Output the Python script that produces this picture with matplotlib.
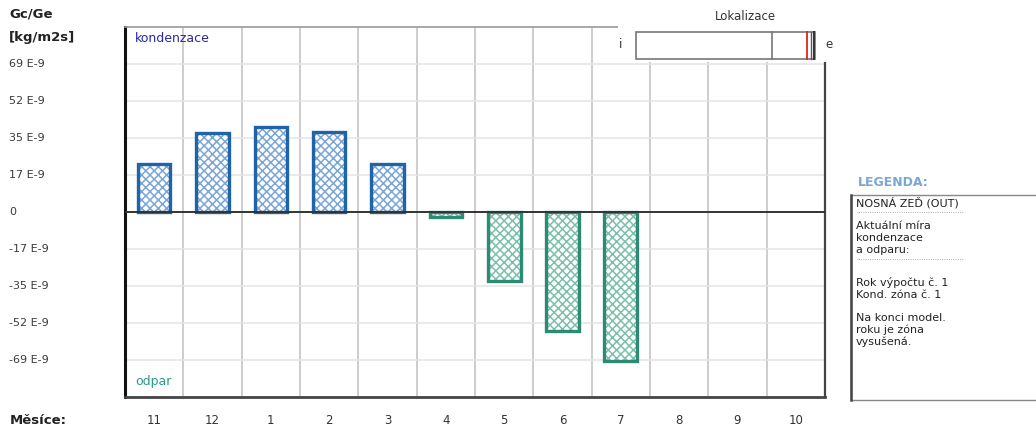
import matplotlib
matplotlib.use("Agg")
import matplotlib.pyplot as plt
import matplotlib.transforms as mtransforms
from matplotlib.patches import Rectangle

plt.rcParams['font.family'] = ['DejaVu Sans']

# Data -------------------------------------------------------------
months = ["11", "12", "1", "2", "3", "4", "5", "6", "7", "8", "9", "10"]
rates = [22.2, 36.6, 39.7, 37.2, 22.2, -2.3, -32.1, -55.3, -69.3, 0, 0, 0]  # E-9 kg/m2s
tick_values = [69, 51.75, 34.5, 17.25, 0, -17.25, -34.5, -51.75, -69]
tick_labels = ["69 E-9", "52 E-9", "35 E-9", "17 E-9", "0",
               "-17 E-9", "-35 E-9", "-52 E-9", "-69 E-9"]
legend_lines = ["NOSNÁ ZEĎ (OUT)", None, "Aktuální míra", "kondenzace", "a odparu:",
                None, "Rok výpočtu č. 1", "Kond. zóna č. 1",
                "Na konci model.", "roku je zóna", "vysušená."]

W, H = 1036, 428
fig = plt.figure(figsize=(W / 100, H / 100), dpi=100)
fig.patch.set_facecolor("white")


def fx(px):
    return px / W


def fy(py):
    return 1 - py / H


ax = fig.add_axes([fx(125), fy(397), fx(825) - fx(125), fy(27) - fy(397)])
ax.set_xlim(-0.5, len(months) - 0.5)
ax.set_ylim(-86.25, 86.25)
ax.set_xticks([])
ax.set_yticks([])

# grid
for k in range(len(months) - 1):
    ax.axvline(k + 0.5, color="#c0c0c0", lw=1.1, zorder=1)
for v in tick_values:
    if v != 0:
        ax.axhline(v, color="#e4e4e4", lw=1.1, zorder=1)
ax.axhline(0, color="#333333", lw=1.4, zorder=4)

# bars
blue_edge, blue_hatch = "#1f64a8", "#7aa5d4"
teal_edge, teal_hatch = "#2e8a72", "#7cbfab"
plt.rcParams['hatch.linewidth'] = 1.1
xs = list(range(len(months)))
for x, v in zip(xs, rates):
    if v == 0:
        continue
    edge, hc = (blue_edge, blue_hatch) if v > 0 else (teal_edge, teal_hatch)
    ax.bar(x, v, width=0.56, color="white", edgecolor=hc, hatch="xxxx",
           linewidth=0, zorder=2)
    ax.bar(x, v, width=0.56, fill=False, edgecolor=edge, linewidth=2.4, zorder=3)

# border
for side, col, lw in [("left", "#111111", 2.2), ("bottom", "#444444", 2.0),
                      ("top", "#9a9a9a", 1.2), ("right", "#444444", 1.6)]:
    ax.spines[side].set_color(col)
    ax.spines[side].set_linewidth(lw)

fig.text(fx(135), fy(38), "kondenzace", color="#2828a0", fontsize=9,
         va="center", ha="left")
fig.text(fx(135), fy(382), "odpar", color="#2a9a8a", fontsize=9,
         va="center", ha="left")

# y tick labels and axis captions
tr = mtransforms.blended_transform_factory(fig.transFigure, ax.transData)
for v, lab in zip(tick_values, tick_labels):
    fig.text(fx(9), v, lab, transform=tr, fontsize=8, color="#3a3a3a",
             va="center", ha="left")
fig.text(fx(9), fy(14), "Gc/Ge", fontsize=9.5, fontweight="bold", color="#222222",
         va="center", ha="left")
fig.text(fx(9), fy(38), "[kg/m2s]", fontsize=9.5, fontweight="bold", color="#222222",
         va="center", ha="left")

# month labels
trx = mtransforms.blended_transform_factory(ax.transData, fig.transFigure)
for x, m in zip(xs, months):
    fig.text(x, fy(421), m, transform=trx, fontsize=8.5, color="#333333",
             ha="center", va="center")
fig.text(fx(10), fy(421), "Měsíce:", fontsize=9.5, fontweight="bold", color="#222222",
         ha="left", va="center")

# location panel (covers the upper right part of the plot)
fig.patches.append(Rectangle((fx(618), fy(62)), fx(845) - fx(618), fy(0) - fy(62),
                             transform=fig.transFigure, facecolor="white",
                             edgecolor="none", zorder=5))
fig.text(fx(745), fy(17), "Lokalizace", fontsize=8.5, color="#333333",
         ha="center", va="center", zorder=6)
fig.patches.append(Rectangle((fx(636), fy(59)), fx(815) - fx(636), fy(32) - fy(59),
                             transform=fig.transFigure, facecolor="white",
                             edgecolor="#777777", lw=1.2, zorder=6))
for px, col, lw in [(772, "#777777", 1.2), (807, "#dd2222", 1.3),
                    (811, "#555555", 1.0), (814, "#333333", 1.4)]:
    fig.lines.append(plt.Line2D([fx(px), fx(px)], [fy(59), fy(32)],
                                transform=fig.transFigure, color=col, lw=lw, zorder=7))
fig.text(fx(621), fy(44), "i", fontsize=8.5, color="#333333", ha="center",
         va="center", zorder=7)
fig.text(fx(829), fy(44), "e", fontsize=8.5, color="#333333", ha="center",
         va="center", zorder=7)

# legend panel
fig.text(fx(858), fy(182), "LEGENDA:", fontsize=9, fontweight="bold",
         color="#7aa6d6", ha="left", va="center")
fig.patches.append(Rectangle((fx(851), fy(400)), fx(1040) - fx(851), fy(195) - fy(400),
                             transform=fig.transFigure, facecolor="white",
                             edgecolor="#888888", lw=1.0, zorder=5))
fig.lines.append(plt.Line2D([fx(851), fx(851)], [fy(400), fy(195)],
                            transform=fig.transFigure, color="#444444", lw=1.8, zorder=6))
line_rows = [203, 213, 226, 238, 250, 260, 283, 295, 318, 330, 342]
for line, row in zip(legend_lines, line_rows):
    if line is None:
        fig.text(fx(856), fy(row), "·" * 48, fontsize=5, color="#888888",
                 ha="left", va="center", zorder=7)
    else:
        fig.text(fx(856), fy(row), line, fontsize=8, color="#222222",
                 ha="left", va="center", zorder=7)

fig.savefig("out.png", dpi=100, facecolor="white")
